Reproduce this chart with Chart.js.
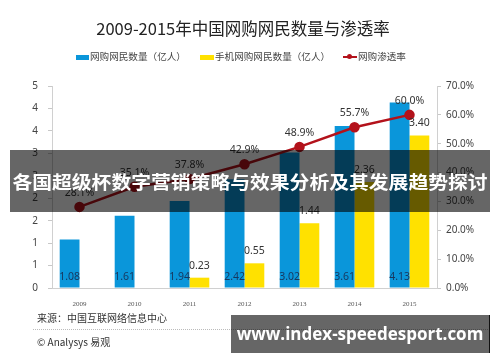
<!DOCTYPE html>
<html>
<head>
<meta charset="utf-8">
<script src="https://cdn.jsdelivr.net/npm/chart.js@4.4.1/dist/chart.umd.min.js"></script>
<style>
  body { margin: 0; background: #fff; }
  #wrap { position: relative; width: 500px; height: 362px; overflow: hidden; font-family: "Noto Sans CJK SC", "Noto Sans", sans-serif; }
  #myChart { position: absolute; left: 0; top: 0; }
  .abs { position: absolute; white-space: nowrap; }
  #title { left: 0; width: 486px; top: 16px; text-align: center; font-size: 16.5px; color: #222; }
  .leg { top: 49px; font-size: 9.6px; color: #444; line-height: 14px; }
  .box { display: inline-block; width: 13px; height: 5px; vertical-align: middle; margin-right: 1px; }
  #source { left: 37px; top: 310px; font-size: 10px; color: #333; }
  #sep { left: 33px; top: 329px; width: 457px; border-top: 1px dotted #bbb; }
  #brand { left: 37px; top: 334px; font-size: 10px; color: #333; }
  #banner { left: 10px; top: 150px; width: 480px; height: 62px; background: rgba(0,0,0,0.6); color: #fff; font-weight: 700; font-size: 18px; line-height: 62px; text-align: center; }
  #banner span { display: inline-block; transform: scaleX(1.1); }
  #mark { left: 231px; top: 315px; width: 258px; height: 38px; background: rgba(0,0,0,0.6); border-right: 1px solid #111; color: #fff; font-family: "Open Sans", sans-serif; font-weight: 700; font-size: 17px; line-height: 38px; text-align: center; }
</style>
</head>
<body>
<div id="wrap">
  <canvas id="myChart" width="500" height="362"></canvas>
  <div class="abs" id="title">2009-2015年中国网购网民数量与渗透率</div>
  <div class="abs leg" style="left:76px"><span class="box" style="background:#0a96da"></span>网购网民数量（亿人）</div>
  <div class="abs leg" style="left:200px"><span class="box" style="background:#ffe100;width:14px"></span>手机网购网民数量（亿人）</div>
  <div class="abs leg" style="left:343px"><span style="display:inline-block;position:relative;width:14px;height:5px;vertical-align:middle;margin-right:1px"><span style="position:absolute;left:0;top:1px;width:14px;height:2px;background:#b3121b"></span><span style="position:absolute;left:4px;top:-1px;width:5px;height:5px;border-radius:50%;background:#b3121b"></span></span>网购渗透率</div>
  <div class="abs" id="source">来源：中国互联网络信息中心</div>
  <div class="abs" id="sep"></div>
  <div class="abs" id="brand">© Analysys 易观</div>
  <div class="abs" id="banner"><span>各国超级杯数字营销策略与效果分析及其发展趋势探讨</span></div>
  <div class="abs" id="mark">www.index-speedesport.com</div>
</div>
<script>
// data
const years = ['2009', '2010', '2011', '2012', '2013', '2014', '2015']
const shoppers = [1.08, 1.61, 1.94, 2.42, 3.02, 3.61, 4.13]
const mobileShoppers = [null, null, 0.23, 0.55, 1.44, 2.36, 3.40]
const penetration = [28.1, 35.1, 37.8, 42.9, 48.9, 55.7, 60.0]

// value labels drawn on top of the marks
const valueLabels = {
    id: 'valueLabels',
    afterDatasetsDraw(chart) {
        const ctx = chart.ctx
        ctx.save()
        ctx.textAlign = 'center'
        ctx.textBaseline = 'middle'
        ctx.font = '10.5px "Noto Sans", sans-serif'
        const base = chart.scales.y.getPixelForValue(0)
        chart.getDatasetMeta(0).data.forEach((bar, i) => {
            ctx.fillStyle = '#17375e'
            ctx.fillText(shoppers[i].toFixed(2), bar.x, base - 11)
        })
        chart.getDatasetMeta(1).data.forEach((bar, i) => {
            if (mobileShoppers[i] == null) return
            ctx.fillStyle = '#333'
            ctx.fillText(mobileShoppers[i].toFixed(2), bar.x, bar.y - 12)
        })
        chart.getDatasetMeta(2).data.forEach((pt, i) => {
            ctx.fillStyle = '#333'
            ctx.fillText(penetration[i].toFixed(1) + '%', pt.x, pt.y - 14)
        })
        ctx.restore()
    }
}

const tickFont = { family: '"Noto Sans", sans-serif', size: 10 }

let myChart = new Chart(document.getElementById('myChart'), {
    data: {
        labels: years,
        datasets: [{
            type: 'bar',
            label: '网购网民数量（亿人）',
            data: shoppers,
            backgroundColor: '#0a96da',
            yAxisID: 'y',
            order: 2,
        }, {
            type: 'bar',
            label: '手机网购网民数量（亿人）',
            data: mobileShoppers,
            backgroundColor: '#ffe100',
            yAxisID: 'y',
            order: 2,
        }, {
            type: 'line',
            label: '网购渗透率',
            data: penetration,
            borderColor: '#b3121b',
            backgroundColor: '#b3121b',
            borderWidth: 2.5,
            pointRadius: 4,
            yAxisID: 'y1',
            order: 1,
        }]
    },
    options: {
        responsive: false,
        animation: false,
        layout: { padding: { top: 86, left: 0, right: 0, bottom: 54 } },
        datasets: { bar: { categoryPercentage: 0.72, barPercentage: 1 } },
        plugins: { legend: { display: false }, title: { display: false }, tooltip: { enabled: false } },
        scales: {
            x: {
                grid: { display: false },
                border: { display: true, color: '#d0d0d0' },
                ticks: { color: '#555', font: { family: '"Liberation Serif", serif', size: 7 }, padding: 4 },
                afterFit: s => { s.height = 20 }
            },
            y: {
                position: 'left',
                min: 0, max: 4.5,
                grid: { drawOnChartArea: false, drawTicks: true, tickLength: 4, color: '#c8c8c8' },
                border: { display: true, color: '#d0d0d0' },
                ticks: { stepSize: 0.5, color: '#444', font: tickFont, padding: 10, callback: v => Math.round(v) },
                afterFit: s => { s.width = 52 }
            },
            y1: {
                position: 'right',
                min: 0, max: 70,
                grid: { drawOnChartArea: false, drawTicks: true, tickLength: 4, color: '#c8c8c8' },
                border: { display: true, color: '#d0d0d0' },
                ticks: { stepSize: 10, color: '#444', font: tickFont, padding: 5, callback: v => v.toFixed(1) + '%' },
                afterFit: s => { s.width = 63 }
            }
        }
    },
    plugins: [valueLabels]
})
</script>
</body>
</html>
